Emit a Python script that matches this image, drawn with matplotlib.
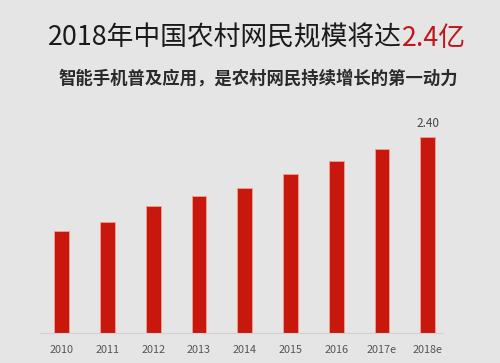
import matplotlib
matplotlib.use('Agg')
import matplotlib.pyplot as plt

plt.rcParams['font.family'] = ['Noto Sans CJK SC', 'DejaVu Sans']

# 数据 (亿人)
years = ['2010', '2011', '2012', '2013', '2014', '2015', '2016', '2017e', '2018e']
users = [1.25, 1.36, 1.56, 1.68, 1.78, 1.95, 2.10, 2.25, 2.40]

title_main = '2018年中国农村网民规模将达'
title_red = '2.4亿'
subtitle = '智能手机普及应用，是农村网民持续增长的第一动力'

bg = '#e5e5e5'
bar_color = '#c8170c'

fig = plt.figure(figsize=(5, 3.63), dpi=100, facecolor=bg)
ax = fig.add_axes([0.08, 0.0813, 0.806, 0.6433], facecolor=bg)

x = list(range(len(years)))
ax.bar(x, users, width=0.32, color=bar_color, edgecolor='#f0a090', linewidth=0.6, zorder=2)

# 只标注最后一根柱子
ax.annotate('%.2f' % users[-1], (x[-1], users[-1]), xytext=(0, 5), textcoords='offset points',
            ha='center', va='bottom', fontsize=8.5, color='#444444')

ax.set_xlim(-0.474, 8.332)
ax.set_ylim(0, 2.851)
ax.set_xticks(x)
ax.set_xticklabels(years, fontsize=7.8, color='#555555')
ax.tick_params(axis='x', length=0, pad=8)
ax.set_yticks([])
for s in ['top', 'left', 'right']:
    ax.spines[s].set_visible(False)
ax.spines['bottom'].set_color('#d2d2d2')
ax.spines['bottom'].set_linewidth(0.8)

# 标题
t1 = fig.text(0.096, 0.895, title_main, fontsize=19.3, color='#1a1a1a', va='center', ha='left')
fig.canvas.draw()
bb = t1.get_window_extent()
fig.text(bb.x1 / fig.bbox.width, 0.895, title_red, fontsize=19.3, color='#c0151a', va='center', ha='left')

fig.text(0.517, 0.785, subtitle, fontsize=12.5, fontweight='bold', color='#2a2a2a',
         va='center', ha='center')

fig.savefig('out.png', dpi=100, facecolor=bg)
